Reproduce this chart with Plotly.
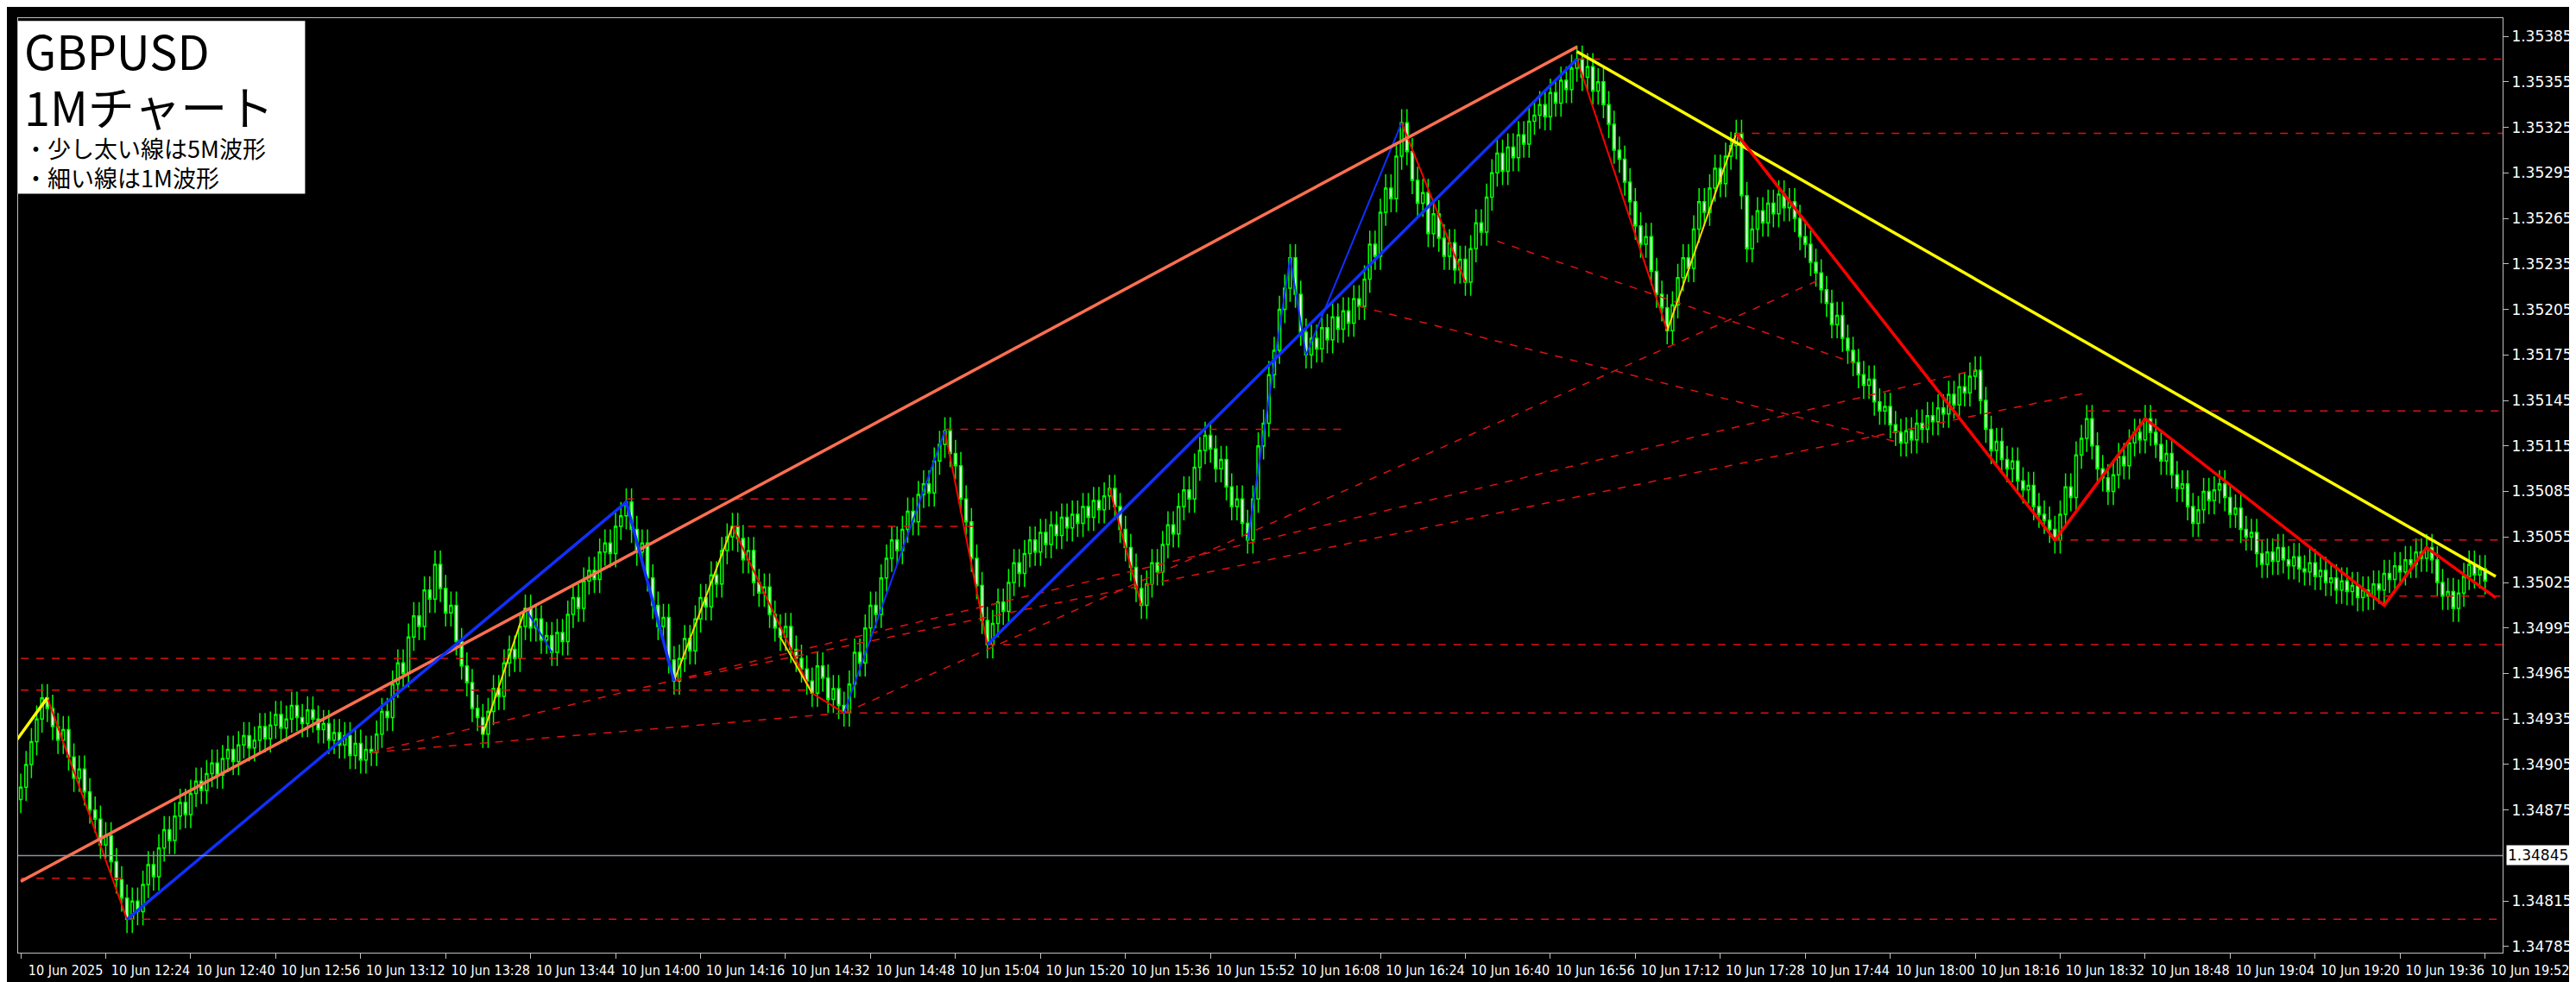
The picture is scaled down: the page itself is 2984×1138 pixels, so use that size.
import plotly.graph_objects as go

BASE = 1.34800
close_pips = [
 9.0,10.5,12.0,13.5,14.9,14.2,
 13.0,12.1,12.8,11.0,9.6,10.2,8.7,7.5,6.9,5.2,5.8,4.1,2.9,1.7,0.3,
 1.5,0.8,2.6,3.9,3.1,5.0,6.2,5.5,7.1,8.0,7.2,8.6,9.4,8.8,9.9,10.6,9.8,10.9,11.5,10.7,11.8,12.4,11.6,12.1,13.0,12.2,13.1,13.8,12.9,13.5,14.4,13.6,13.2,14.1,
 13.5,12.8,13.2,12.1,12.6,11.8,12.4,11.1,11.9,10.8,11.5,11.3,
 12.5,14.0,13.6,15.8,17.2,16.5,18.9,20.3,19.6,22.0,21.4,23.7,
 22.1,20.5,21.0,18.6,17.0,15.9,14.2,13.6,12.5,
 14.0,15.5,15.0,17.2,18.1,17.5,19.6,20.8,
 19.5,20.1,18.7,19.0,17.9,
 19.2,18.6,20.4,21.5,20.8,22.6,23.3,22.7,24.5,25.1,24.4,26.2,26.9,27.8,
 26.0,24.5,25.1,22.8,21.0,19.6,20.2,17.4,16.0,
 17.5,18.8,18.0,20.1,21.5,20.9,23.0,22.4,24.6,25.5,26.2,
 25.4,24.0,24.6,22.5,21.8,22.2,20.4,19.5,18.9,
 19.6,18.1,17.5,16.8,16.0,15.2,
 17.0,16.2,14.8,15.5,14.4,13.9,
 15.8,17.9,17.2,19.5,21.0,20.4,22.8,24.1,25.3,
 24.6,26.0,27.2,26.5,28.3,29.0,28.4,30.5,31.6,32.5,
 31.0,30.2,28.0,26.5,24.1,22.3,20.0,18.4,
 19.8,21.2,20.6,22.5,23.8,23.1,24.4,25.3,
 24.5,25.8,25.0,26.3,25.6,26.8,26.1,27.0,26.4,27.5,26.8,27.9,27.3,28.2,28.7,
 27.5,26.0,24.8,23.5,22.1,21.0,
 22.4,23.8,23.2,25.0,26.3,25.7,27.5,28.6,28.0,30.1,31.2,32.2,
 31.3,30.0,30.6,28.8,27.5,28.0,26.4,25.3,
 28.0,31.5,33.0,36.2,37.8,40.5,41.9,43.9,
 41.5,39.0,37.5,
 38.6,37.9,39.3,38.5,40.0,39.2,40.4,39.6,41.2,40.7,
 42.5,44.8,44.0,46.9,48.5,47.8,50.6,52.8,
 50.9,49.0,47.5,48.2,45.5,
 46.8,45.2,44.0,44.9,43.1,43.8,42.3,
 44.5,46.2,45.6,47.9,49.5,50.8,
 49.6,51.2,50.5,52.0,51.4,52.9,53.3,54.0,
 53.2,54.8,54.1,55.6,55.0,56.4,57.0,
 55.8,56.5,54.9,55.5,54.0,
 52.7,51.0,50.4,48.9,47.6,
 46.0,44.8,45.3,43.0,41.5,40.6,39.1,
 40.8,42.6,43.9,43.2,45.8,47.6,
 46.9,48.5,49.8,48.8,50.6,51.3,52.1,
 48.0,44.5,
 45.8,47.0,46.2,47.5,46.8,48.1,47.2,47.6,
 46.5,45.3,44.8,43.6,42.9,41.8,
 40.9,39.5,40.1,38.6,37.8,37.0,
 36.2,35.5,35.9,34.4,33.8,34.1,32.9,32.4,31.7,
 32.5,31.9,33.0,32.6,33.5,33.1,34.0,33.6,34.9,
 34.2,35.4,35.0,36.1,36.5,
 34.5,32.6,31.2,
 31.8,30.6,30.0,30.5,29.2,28.6,28.9,27.5,27.0,26.6,26.0,25.3,
 27.0,28.8,28.1,30.9,32.0,33.3,
 31.5,30.0,29.4,28.5,
 29.6,30.8,30.2,31.7,32.4,31.9,33.3,
 32.4,31.6,30.5,31.0,29.6,28.7,29.0,27.5,26.4,
 27.3,28.5,27.9,28.6,29.0,
 28.1,27.0,27.4,26.0,25.5,25.8,24.4,23.7,
 24.5,23.9,24.8,24.0,23.6,24.2,23.4,23.2,
 23.8,22.9,23.3,22.5,22.8,22.0,22.6,21.9,22.3,21.5,22.0,21.6,
 22.4,22.0,23.1,22.7,23.6,23.2,24.0,23.7,24.5,24.1,24.8,
 24.0,22.5,21.6,21.9,20.8,
 21.8,22.9,23.7,
 23.0,23.4,22.6,
]
first_open_pips = 8.2
wick_pips = 0.9

tick_minutes = [0,16,32,48,64,80,96,112,128,144,160,176,192,208,224,240,256,272,288,304,320,336,352,368,384,400,416,432,448,464]
tick_labels = ["10 Jun 2025","10 Jun 12:24","10 Jun 12:40","10 Jun 12:56","10 Jun 13:12","10 Jun 13:28",
 "10 Jun 13:44","10 Jun 14:00","10 Jun 14:16","10 Jun 14:32","10 Jun 14:48","10 Jun 15:04","10 Jun 15:20",
 "10 Jun 15:36","10 Jun 15:52","10 Jun 16:08","10 Jun 16:24","10 Jun 16:40","10 Jun 16:56","10 Jun 17:12",
 "10 Jun 17:28","10 Jun 17:44","10 Jun 18:00","10 Jun 18:16","10 Jun 18:32","10 Jun 18:48","10 Jun 19:04",
 "10 Jun 19:20","10 Jun 19:36","10 Jun 19:52"]
price_ticks = [1.34785,1.34815,1.34875,1.34905,1.34935,1.34965,1.34995,1.35025,1.35055,1.35085,
 1.35115,1.35145,1.35175,1.35205,1.35235,1.35265,1.35295,1.35325,1.35355,1.35385]
current_price = 1.34845
title_lines = ["GBPUSD", "1Mチャート", "・少し太い線は5M波形", "・細い線は1M波形"]

# zigzag waves: (minute, pips)
wave5_orange = [(0,2.8),(293,57.8)]
wave5_yellow = [(293,57.5),(466,22.9)]
wave5_yellow_left = [(-1,12.0),(5,14.9)]
wave5_blue_a = [(20,0.3),(114,27.8),(123,16.0)]
wave5_blue_b = [(182,18.4),(293,57.0)]
wave5_red = [(323,52.1),(383,25.3),(400,33.3),(445,21.0),(453,24.8),(466,21.5)]
wave1_red = [[(5,14.9),(20,0.3)],[(134,26.2),(149,15.2),(155,13.9)],[(174,32.5),(182,18.4)],
             [(205,28.7),(211,21.0)],[(293,57.0),(310,39.1)],[(260,52.8),(272,42.3)]]
wave1_blue = [[(155,13.9),(174,32.5)],[(231,25.3),(239,43.9),(242,37.5),(260,52.8)],[(95,20.8),(100,17.9)]]
wave1_yellow = [[(87,12.5),(95,20.8)],[(123,16.0),(134,26.2)],[(310,39.1),(323,52.1)],[(143,18.9),(149,15.2)]]
hlines_dash = [(293,57.0),(323,52.1),(389,33.8),(383,25.3),(442,21.6),(182,18.4),(155,13.9),(20,0.3)]
hlines_left = [(0,17.5,123),(0,15.4,149),(0,3.0,20),(114,28.0,160),(174,32.6,250),(134,26.2,180)]
diag_dash = [[(66,11.3),(155,13.9)],[(66,11.3),(368,36.5)],[(123,16.0),(389,35.0)],
             [(252,40.7),(354,31.7)],[(155,13.9),(339,42.5)],[(278,45.0),(345,37.0)]]

def P(p):
    return BASE + p/10000.0

x = list(range(len(close_pips)))
closes = [P(c) for c in close_pips]
opens = [P(first_open_pips)] + closes[:-1]
highs = [max(o, c) + wick_pips/10000 for o, c in zip(opens, closes)]
lows = [min(o, c) - wick_pips/10000 for o, c in zip(opens, closes)]

fig = go.Figure()
fig.add_trace(go.Candlestick(x=x, open=opens, high=highs, low=lows, close=closes,
    increasing=dict(line=dict(color="#00ff00", width=1.5), fillcolor="#000000"),
    decreasing=dict(line=dict(color="#00ff00", width=1.5), fillcolor="#ffffff"),
    whiskerwidth=0, showlegend=False, hoverinfo="skip"))

def line(pts, color, width, dash="solid"):
    fig.add_trace(go.Scatter(x=[p[0] for p in pts], y=[P(p[1]) for p in pts], mode="lines",
        line=dict(color=color, width=width, dash=dash), showlegend=False, hoverinfo="skip"))

for s in hlines_dash:
    line([(s[0], s[1]), (470, s[1])], "#e01010", 1.5, "dash")
for s in hlines_left:
    line([(s[0], s[1]), (s[2], s[1])], "#e01010", 1.5, "dash")
for d in diag_dash:
    line(d, "#e01010", 1.5, "dash")
for seg in wave1_red:
    line(seg, "#ff0000", 2)
for seg in wave1_blue:
    line(seg, "#1030ff", 2)
for seg in wave1_yellow:
    line(seg, "#ffd700", 2)
line(wave5_orange, "#ff7050", 3.5)
line(wave5_yellow, "#ffff00", 3.5)
line(wave5_yellow_left, "#ffff00", 3.5)
line(wave5_blue_a, "#1030ff", 3.5)
line(wave5_blue_b, "#1030ff", 3.5)
line(wave5_red, "#ff0000", 3.5)

fig.add_shape(type="line", xref="paper", x0=0, x1=1, y0=current_price, y1=current_price,
              line=dict(color="#8a94a0", width=1.5))
fig.add_annotation(xref="paper", x=1.0, y=current_price, text="1.34845", showarrow=False,
                   xanchor="left", xshift=4, bgcolor="#ffffff", font=dict(color="#000000", size=17, family="DejaVu Sans"))

# text box
fig.add_shape(type="rect", xref="paper", yref="paper", x0=0.0, x1=0.1155, y0=0.812, y1=0.997,
              fillcolor="#ffffff", line=dict(width=0), layer="above")
for txt, yy, sz in zip(title_lines, [0.966, 0.906, 0.861, 0.830], [54, 54, 27, 27]):
    fig.add_annotation(xref="paper", yref="paper", x=0.002, y=yy, xanchor="left", yanchor="middle",
        showarrow=False, text=txt, borderpad=0, font=dict(color="#000000", family="Noto Sans CJK JP", size=sz))

fig.update_layout(width=2984, height=1138, paper_bgcolor="#000000", plot_bgcolor="#000000",
    margin=dict(l=12, r=64, t=12, b=36),
    xaxis=dict(range=[-0.5, 467.3], tickvals=tick_minutes, ticktext=tick_labels, showgrid=False,
               rangeslider=dict(visible=False), ticks="outside", tickcolor="#c0c0c0", ticklen=6,
               ticklabelshift=52,
               tickfont=dict(color="#ffffff", size=16, family="DejaVu Sans Condensed"),
               showline=True, linecolor="#c0c0c0", mirror=True, zeroline=False),
    yaxis=dict(side="right", range=[1.34781, 1.35397], tickvals=price_ticks, tickformat=".5f",
               showgrid=False, ticks="outside", tickcolor="#c0c0c0", ticklen=6,
               tickfont=dict(color="#ffffff", size=17, family="DejaVu Sans"),
               showline=True, linecolor="#c0c0c0", mirror=True, zeroline=False))

fig.write_html("out.html")
